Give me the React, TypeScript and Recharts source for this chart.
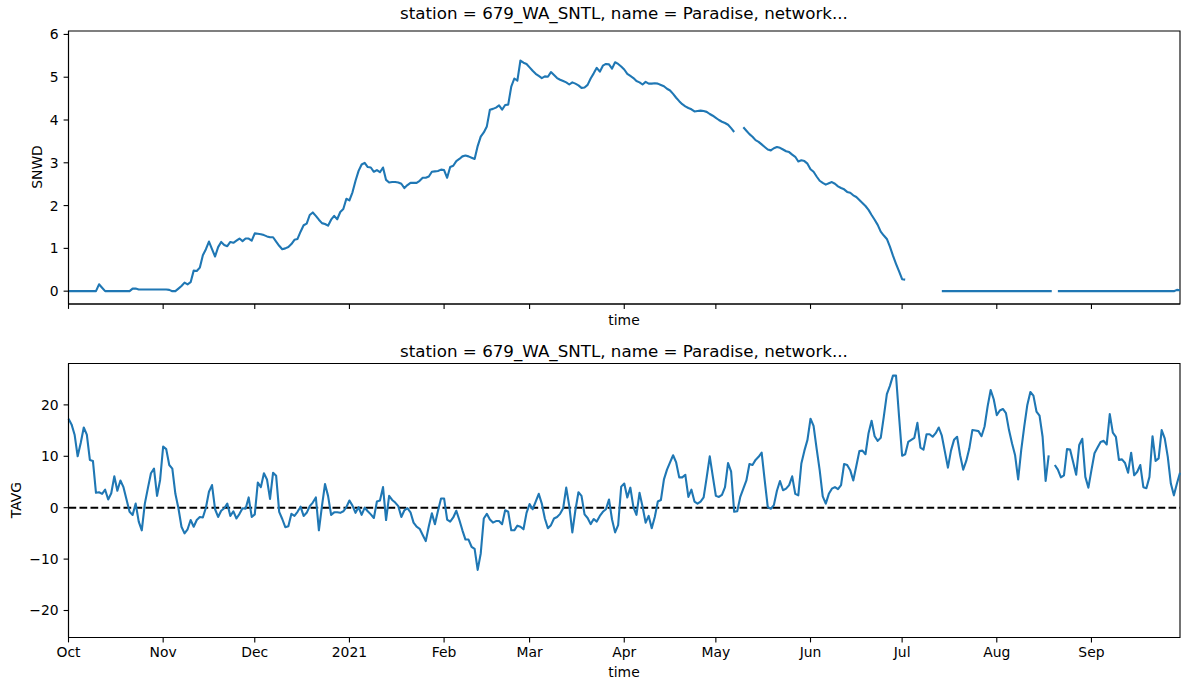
import { LineChart, Line, XAxis, YAxis, ReferenceLine, ReferenceArea } from "recharts";

// water year 2020-10-01 .. 2021-09-30, one value per day (index = days since Oct 1)
const monthTicks = [0, 31, 61, 92, 123, 151, 182, 212, 243, 273, 304, 335];
const monthLabels = ["Oct", "Nov", "Dec", "2021", "Feb", "Mar", "Apr", "May", "Jun", "Jul", "Aug", "Sep"];

const snwdTicks = [0, 1, 2, 3, 4, 5, 6];
const tavgTicks = [-20, -10, 0, 10, 20];

// snow depth
const snwd: (number | null)[] = [
  0, 0, 0, 0, 0, 0, 0, 0, 0, 0,
  0.16, 0.08, 0, 0, 0, 0, 0, 0, 0, 0,
  0, 0.06, 0.06, 0.04, 0.04, 0.04, 0.04, 0.04, 0.04, 0.04,
  0.04, 0.04, 0.04, 0.03, 0, 0, 0.06, 0.12, 0.2, 0.16,
  0.21, 0.48, 0.47, 0.55, 0.84, 0.98, 1.16, 0.98, 0.81, 1.03,
  1.15, 1.08, 1.05, 1.15, 1.13, 1.18, 1.23, 1.17, 1.23, 1.23,
  1.18, 1.35, 1.34, 1.33, 1.31, 1.28, 1.26, 1.26, 1.16, 1.06,
  0.98, 1.0, 1.03, 1.1, 1.2, 1.22, 1.39, 1.54, 1.58, 1.78,
  1.84, 1.76, 1.67, 1.59, 1.57, 1.53, 1.67, 1.76, 1.68, 1.85,
  1.92, 2.16, 2.12, 2.31, 2.58, 2.81, 2.96, 3.0, 2.9, 2.89,
  2.79, 2.83, 2.78, 2.89, 2.6, 2.54, 2.55, 2.55, 2.54, 2.51,
  2.41, 2.48, 2.53, 2.53, 2.53, 2.58, 2.65, 2.65, 2.68, 2.79,
  2.8, 2.81, 2.84, 2.83, 2.65, 2.9, 2.93, 3.04, 3.09, 3.15,
  3.17, 3.15, 3.12, 3.09, 3.39, 3.61, 3.71, 3.85, 4.24, 4.26,
  4.29, 4.34, 4.24, 4.35, 4.36, 4.78, 4.97, 4.92, 5.39, 5.34,
  5.31, 5.23, 5.15, 5.08, 5.03, 4.98, 5.02, 5.01, 5.12, 5.05,
  4.98, 4.94, 4.91, 4.88, 4.83, 4.88, 4.85, 4.81, 4.75, 4.76,
  4.82, 4.97, 5.09, 5.22, 5.13, 5.27, 5.31, 5.3, 5.2, 5.35,
  5.31, 5.25, 5.18, 5.08, 5.03, 4.98, 4.91, 4.88, 4.83, 4.89,
  4.85, 4.85, 4.86, 4.85, 4.82, 4.79, 4.73, 4.69, 4.61, 4.52,
  4.44, 4.37, 4.32, 4.28, 4.25, 4.2, 4.21, 4.22, 4.21, 4.19,
  4.14, 4.1, 4.05, 4.0, 3.96, 3.93, 3.89, 3.81, 3.72, null,
  null, 3.83, 3.75, 3.67, 3.61, 3.53, 3.49, 3.43, 3.37, 3.31,
  3.29, 3.34, 3.37, 3.35, 3.31, 3.27, 3.25, 3.19, 3.14, 3.03,
  3.06, 3.04, 2.98, 2.85, 2.79, 2.68, 2.58, 2.53, 2.49, 2.52,
  2.55, 2.51, 2.45, 2.41, 2.38, 2.32, 2.3, 2.24, 2.2, 2.13,
  2.06, 1.99, 1.9, 1.78, 1.67, 1.55, 1.39, 1.3, 1.22, 1.04,
  0.83, 0.64, 0.46, 0.28, 0.27, null, null, null, null, null,
  null, null, null, null, null, null, 0, 0, 0, 0,
  0, 0, 0, 0, 0, 0, 0, 0, 0, 0,
  0, 0, 0, 0, 0, 0, 0, 0, 0, 0,
  0, 0, 0, 0, 0, 0, 0, 0, 0, 0,
  0, 0, 0, null, 0, 0, 0, 0, 0, 0,
  0, 0, 0, 0, 0, 0, 0, 0, 0, 0,
  0, 0, 0, 0, 0, 0, 0, 0, 0, 0,
  0, 0, 0, 0, 0, 0, 0, 0, 0, 0,
  0, 0, 0, 0.03, 0.02,
];

// daily average temperature
const tavg: (number | null)[] = [
  17.3, 16.2, 14.2, 10.0, 12.6, 15.6, 14.2, 9.3, 9.1, 2.9,
  3.0, 2.7, 3.5, 1.6, 2.8, 6.1, 3.3, 5.3, 4.0, 1.6,
  -0.8, -1.4, 0.8, -2.7, -4.4, 0.8, 3.8, 6.7, 7.6, 2.3,
  5.4, 11.9, 11.4, 8.3, 7.6, 2.7, -0.1, -3.7, -5.0, -4.2,
  -2.4, -3.7, -2.4, -1.8, -1.9, 0.0, 3.1, 4.4, -0.3, -1.8,
  -0.6, -0.1, 0.8, -1.6, -0.7, -2.1, -1.2, -0.1, -0.2, 2.0,
  -1.8, -1.3, 4.9, 4.0, 6.7, 5.5, 1.7, 6.8, 6.2, -0.8,
  -2.2, -3.8, -3.6, -1.2, -1.6, -0.8, 0.2, -1.6, -1.0, 0.3,
  1.0, 2.0, -4.4, 0.3, 4.6, 2.3, -1.4, -0.9, -0.9, -1.0,
  -0.7, 0.1, 1.4, 0.4, -1.0, 0.1, -1.4, 0.0, -0.7, -1.3,
  -2.0, 1.2, 1.4, 4.0, -2.4, 2.3, 1.5, 1.0, 0.3, -1.8,
  -0.5, -0.1, -0.9, -2.9, -3.7, -4.1, -5.3, -6.5, -3.6, -1.1,
  -3.2, -0.6, 1.8, 1.8, -2.3, -2.7, -1.9, -0.6, -2.4, -4.4,
  -6.2, -6.2, -7.6, -8.0, -12.1, -8.9, -2.1, -1.2, -2.3, -2.9,
  -2.6, -2.6, -3.2, -0.5, -0.8, -4.4, -4.4, -3.5, -3.7, -4.2,
  -1.0, 0.7, -0.3, 1.2, 2.7, 0.8, -2.1, -4.0, -3.4, -2.1,
  -1.8, -1.2, -0.1, 3.9, 0.3, -4.8, -0.5, 3.0, 2.3, -1.3,
  -2.0, -3.2, -2.2, -2.7, -1.6, -0.8, -0.3, 1.6, -2.3, -4.8,
  -3.4, 4.1, 4.7, 2.0, 3.9, 0.1, -1.4, 2.9, 0.2, -2.9,
  -1.6, -4.0, -1.8, 1.2, 1.5, 5.5, 7.4, 8.8, 10.2, 8.8,
  5.9, 5.9, 6.4, 2.1, 3.5, 1.2, 0.8, 1.2, 2.0, 5.9,
  10.0, 6.1, 2.3, 2.1, 2.5, 4.0, 8.7, 7.0, -0.8, -0.7,
  2.1, 3.7, 5.3, 8.5, 8.3, 9.3, 9.9, 10.7, 5.3, 0.1,
  -0.2, 0.5, 3.3, 5.2, 3.4, 3.7, 4.4, 6.1, 2.7, 2.4,
  8.6, 11.1, 13.2, 17.3, 15.9, 11.5, 7.3, 2.2, 0.8, 2.7,
  3.7, 4.0, 3.6, 4.4, 8.5, 8.3, 7.3, 5.3, 8.1, 11.0,
  11.1, 10.4, 14.5, 16.9, 13.9, 13.0, 13.6, 17.7, 22.1, 23.7,
  25.7, 25.7, 17.7, 10.1, 10.4, 12.8, 13.2, 13.6, 16.5, 11.7,
  11.3, 14.3, 14.3, 13.8, 14.5, 15.6, 14.0, 10.9, 7.8, 11.1,
  13.2, 13.8, 10.2, 7.4, 9.1, 11.5, 15.1, 15.0, 14.9, 13.9,
  15.8, 19.7, 22.9, 21.1, 18.0, 18.9, 19.2, 18.4, 15.1, 12.5,
  10.2, 5.5, 11.2, 15.8, 20.0, 22.5, 21.8, 18.7, 17.9, 13.8,
  5.2, 10.2, null, 8.3, 7.4, 5.9, 6.3, 11.4, 11.3, 8.9,
  6.4, 12.2, 13.4, 6.0, 3.9, 7.3, 10.6, 11.7, 12.8, 13.0,
  12.3, 18.2, 14.6, 13.8, 9.3, 9.4, 8.7, 6.8, 10.7, 6.3,
  7.0, 8.3, 4.0, 3.8, 6.0, 13.9, 9.1, 9.6, 15.1, 13.5,
  9.9, 4.7, 2.4, 4.7, 6.8,
];

const rows = snwd.map((v, day) => ({ day, snwd: v, tavg: tavg[day] }));

const FONT = "'DejaVu Sans', sans-serif";
const BLUE = "#1f77b4";
const TITLE = "station = 679_WA_SNTL, name = Paradise, network...";

const X_DOMAIN: [number, number] = [0, 364];
const SNWD_DOMAIN: [number, number] = [-0.3, 6.08];
const TAVG_DOMAIN: [number, number] = [-25.25, 28.05];

const tickFont = { fill: "#000", fontSize: 13.9, fontFamily: FONT };
const axisLine = { stroke: "#000", strokeWidth: 1.1 };
const tickLine = { stroke: "#000", strokeWidth: 1.1 };

const minus = (v: number) => String(v).replace("-", "\u2212");
const monthName = (v: number) => monthLabels[monthTicks.indexOf(v)] ?? "";

const text = (style: React.CSSProperties, value: string, rotate = false) => (
  <div
    style={{
      position: "absolute",
      fontFamily: FONT,
      fontSize: 13.9,
      color: "#000",
      whiteSpace: "nowrap",
      transform: rotate ? "translate(-50%, -50%) rotate(-90deg)" : "translate(-50%, -50%)",
      ...style,
    }}>
    {value}
  </div>
);

export default function App() {
  return (
    <div style={{ position: "absolute", left: 0, top: 0, width: 1189, height: 690, background: "#fff" }}>
      {/* SNWD panel */}
      <div style={{ position: "absolute", left: 0, top: 0 }}>
        <LineChart width={1189} height={345} data={rows} margin={{ top: 31, right: 9, bottom: 0, left: 0 }}>
          <XAxis
            dataKey="day"
            type="number"
            domain={X_DOMAIN}
            ticks={monthTicks}
            tickFormatter={() => ""}
            height={41}
            tickSize={4.9}
            axisLine={axisLine}
            tickLine={tickLine}
          />
          <YAxis
            type="number"
            domain={SNWD_DOMAIN}
            allowDataOverflow
            ticks={snwdTicks}
            width={68.5}
            tickSize={4.9}
            tickMargin={4.9}
            tick={tickFont}
            axisLine={axisLine}
            tickLine={tickLine}
          />
          {/* axes frame */}
          <ReferenceArea
            x1={X_DOMAIN[0]}
            x2={X_DOMAIN[1]}
            y1={SNWD_DOMAIN[0]}
            y2={SNWD_DOMAIN[1]}
            fill="none"
            stroke="#000"
            strokeWidth={1.1}
          />
          <Line
            dataKey="snwd"
            type="linear"
            stroke={BLUE}
            strokeWidth={2.1}
            strokeLinejoin="round"
            dot={false}
            activeDot={false}
            isAnimationActive={false}
          />
        </LineChart>
      </div>

      {/* TAVG panel */}
      <div style={{ position: "absolute", left: 0, top: 330 }}>
        <LineChart width={1189} height={345} data={rows} margin={{ top: 33.5, right: 9, bottom: 0, left: 0 }}>
          <XAxis
            dataKey="day"
            type="number"
            domain={X_DOMAIN}
            ticks={monthTicks}
            tickFormatter={monthName}
            height={37.5}
            tickSize={4.9}
            tickMargin={4.9}
            tick={tickFont}
            axisLine={axisLine}
            tickLine={tickLine}
          />
          <YAxis
            type="number"
            domain={TAVG_DOMAIN}
            allowDataOverflow
            ticks={tavgTicks}
            tickFormatter={minus}
            width={68.5}
            tickSize={4.9}
            tickMargin={4.9}
            tick={tickFont}
            axisLine={axisLine}
            tickLine={tickLine}
          />
          <ReferenceArea
            x1={X_DOMAIN[0]}
            x2={X_DOMAIN[1]}
            y1={TAVG_DOMAIN[0]}
            y2={TAVG_DOMAIN[1]}
            fill="none"
            stroke="#000"
            strokeWidth={1.1}
          />
          <ReferenceLine y={0} stroke="#000" strokeWidth={2.1} strokeDasharray="7.7 3.3" />
          <Line
            dataKey="tavg"
            type="linear"
            stroke={BLUE}
            strokeWidth={2.1}
            strokeLinejoin="round"
            dot={false}
            activeDot={false}
            isAnimationActive={false}
          />
        </LineChart>
      </div>

      {text({ left: 624, top: 13, fontSize: 16.7 }, TITLE)}
      {text({ left: 624, top: 351, fontSize: 16.7 }, TITLE)}
      {text({ left: 37, top: 167 }, "SNWD", true)}
      {text({ left: 16, top: 500 }, "TAVG", true)}
      {text({ left: 624, top: 320 }, "time")}
      {text({ left: 624, top: 672 }, "time")}
    </div>
  );
}
